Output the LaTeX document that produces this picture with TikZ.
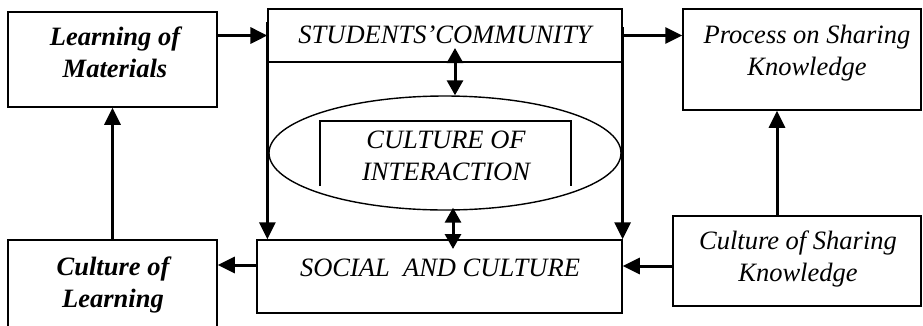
\documentclass[tikz,border=0pt]{standalone}
\usepackage{fontspec}
\setmainfont{Liberation Serif}
\usetikzlibrary{arrows.meta,calc,shapes.geometric}
\tikzset{
 boxr/.style={draw, line width=1.5pt, rectangle, inner sep=0pt},
 lbl/.style={inner sep=0pt, anchor=base, align=center, font=\fontsize{26.5}{31.5}\selectfont\itshape},
 blbl/.style={lbl, font=\fontsize{26.5}{31.5}\selectfont\bfseries\itshape},
 arr/.style={line width=3pt, -{Triangle[length=17pt,width=16pt]}},
 darr/.style={line width=3pt, {Triangle[length=15pt,width=16pt]}-{Triangle[length=15pt,width=16pt]}},
}
\begin{document}
\begin{tikzpicture}[x=1pt,y=-1pt]
\useasboundingbox (0,0) rectangle (923,325);
\fill[white] (0,0) rectangle (923,325);
\clip (0,0) rectangle (923,325);
% boxes
\node[boxr, minimum width=209pt, minimum height=95pt] (LM) at (112.5,59.5) {};
\node[boxr, line width=1.2pt, minimum width=354pt, minimum height=53pt] (SC) at (445,35.5) {};
\node[boxr, minimum width=238pt, minimum height=101pt] (PSK) at (802,59.5) {};
\node[draw, ellipse, line width=1.4pt, inner sep=0pt, minimum width=352pt, minimum height=114pt] (ELL) at (445,153) {};
\node[boxr, minimum width=365pt, minimum height=73pt] (SOC) at (439.5,276.5) {};
\node[boxr, minimum width=248pt, minimum height=90pt] (CSK) at (797,261) {};
\node[boxr, minimum width=209pt, minimum height=105pt] (CL) at (112.5,292.5) {};
% inner open box
\draw[line width=1.5pt] (320,186) -- (320,121) -- (571,121) -- (571,186);
% texts (multi-line: base = baseline of last line)
\node[blbl] (tLM) at (115,77) {Learning of\\Materials};
\node[lbl] (tSC) at (445,43) {STUDENTS’COMMUNITY};
\node[lbl] (tPSK) at (807,75) {Process on Sharing\\Knowledge};
\node[lbl] (tELL) at (446,180) {CULTURE OF\\INTERACTION};
\node[lbl] (tSOC) at (440,276) {SOCIAL\ \ AND CULTURE};
\node[lbl] (tCSK) at (798,281) {Culture of Sharing\\Knowledge};
\node[blbl] (tCL) at (113,307) {Culture of\\Learning};
% connectors
\draw[arr] (LM.east |- SC.center) -- (SC.west);
\draw[arr] (SC.east) -- (PSK.west |- SC.east);
\draw[arr] ($(SC.north west)+(0,14)$) -- (SC.west |- SOC.north);
\draw[arr] ($(SC.north east)+(0,19)$) -- (SC.east |- SOC.north);
\coordinate (ua) at (455,48);
\draw[darr] (ua) -- (ua |- ELL.north);
\coordinate (lb) at (453,249);
\draw[darr] ($(ELL.south -| lb)+(0,-3)$) -- (lb);
\coordinate (ck) at ([yshift=-5pt]CSK.west);
\draw[arr] (ck) -- (SOC.east |- ck);
\coordinate (ux) at (777,0);
\draw[arr] (CSK.north -| ux) -- (PSK.south -| ux);
\coordinate (sl) at ([yshift=11.5pt]SOC.west);
\draw[arr] (sl) -- (CL.east |- sl);
\draw[arr] (CL.north) -- (LM.south);
\end{tikzpicture}
\end{document}
